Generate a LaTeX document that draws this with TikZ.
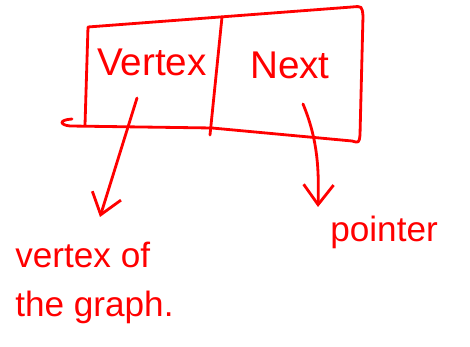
\documentclass[tikz,border=0pt]{standalone}
\usepackage{fontspec}
\setmainfont{Liberation Sans}
\usetikzlibrary{arrows.meta, positioning, calc}
\tikzstyle{ink} = [draw=red, line width=1.6pt, line cap=round, line join=round]
\tikzstyle{field} = [text=red, font=\fontsize{22}{26}\selectfont]
\tikzstyle{note} = [text=red, font=\fontsize{20}{28}\selectfont, align=left, inner sep=0pt]
\tikzstyle{arrow} = [ink, -{Straight Barb[length=4mm, width=6mm]}]

\begin{document}
\begin{tikzpicture}[x=0.02cm, y=-0.02cm]
    \useasboundingbox (0,0) rectangle (470,347);

    % Corner points of the box
    \coordinate (tl) at (88,27);
    \coordinate (tr) at (362,8);
    \coordinate (br) at (360,143);
    \coordinate (bl) at (85,125);

    % The box, with its hook at the lower left
    \draw [ink] (bl) -- (tl) -- (352,7) .. controls (362,6) .. (363,16)
        -- (360,135) .. controls (359,143) .. (352,141) -- (212,128)
        -- (70,126) .. controls (60,125) and (58,120) .. (72,119);
    \draw [ink] (222,17) -- (210,135);

    % Fields and labels
    \node (vertex) [field] at (152,62) {Vertex};
    \node (next) [field] at (290,65) {Next};
    \node (vlabel) [note, anchor=north west] at (15,242) {vertex of\\the graph.};
    \node (plabel) [note, anchor=west] at (330,232) {pointer};

    % Arrows
    \coordinate (vtail) at (137,98);
    \coordinate (vtip) at (100,217);
    \coordinate (ptail) at (303,104);
    \coordinate (ptip) at (318,207);
    \draw [arrow] (vtail) -- (vtip);
    \draw [arrow] (ptail) .. controls (318,140) and (319,170) .. (ptip);

\end{tikzpicture}
\end{document}
